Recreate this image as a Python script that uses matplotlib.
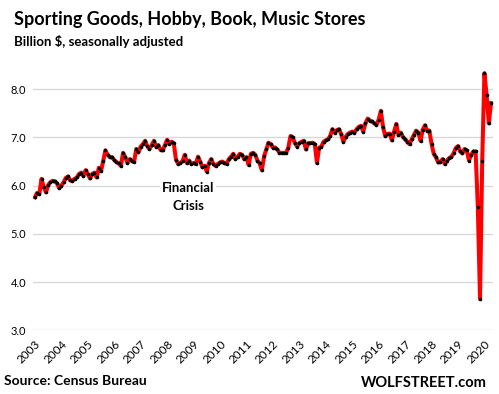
import matplotlib
matplotlib.use('Agg')
import matplotlib.pyplot as plt
import numpy as np

# monthly sales, billion $ (first point = 2003 label)
sales = [
    5.76, 5.85, 5.83, 6.14, 5.97, 5.86, 6.01, 6.07, 6.10, 6.09, 6.05, 5.95,
    6.00, 6.07, 6.16, 6.19, 6.11, 6.10, 6.14, 6.17, 6.24, 6.27, 6.20, 6.32,
    6.24, 6.15, 6.24, 6.27, 6.17, 6.37, 6.30, 6.51, 6.73, 6.64,
    6.59, 6.59, 6.53, 6.49, 6.46, 6.41, 6.68, 6.59, 6.47, 6.55, 6.51, 6.49,
    6.76, 6.69, 6.81, 6.86, 6.93, 6.82, 6.76, 6.84, 6.93, 6.81, 6.84, 6.74,
    6.73, 6.84, 6.95, 6.86, 6.91, 6.88, 6.54, 6.45, 6.47, 6.51, 6.64,
    6.47, 6.52, 6.45, 6.47, 6.45, 6.60, 6.50, 6.38, 6.41, 6.29, 6.47, 6.55,
    6.45, 6.41, 6.45, 6.48, 6.50, 6.47, 6.45, 6.55, 6.60, 6.66, 6.55, 6.60,
    6.66, 6.64, 6.55, 6.59, 6.43, 6.66, 6.68, 6.64, 6.52, 6.46,
    6.32, 6.61, 6.75, 6.89, 6.86, 6.79, 6.79, 6.75, 6.68, 6.68, 6.68, 6.68,
    6.79, 7.03, 7.00, 6.88, 6.81, 6.88, 6.91, 6.93, 6.75, 6.88, 6.88, 6.89,
    6.86, 6.47, 6.79, 6.81, 6.91, 6.94, 6.96, 7.03, 7.17, 7.10, 7.15,
    7.17, 7.07, 6.91, 7.01, 7.07, 7.10, 7.12, 7.10, 7.17, 7.22, 7.24, 7.12,
    7.29, 7.39, 7.35, 7.33, 7.29, 7.26, 7.37, 7.55, 7.21, 7.03, 7.07, 7.08,
    6.94, 7.12, 7.28, 7.05, 7.10, 7.01, 6.96, 6.91, 6.86,
    6.96, 7.05, 7.14, 7.10, 6.93, 7.16, 7.25, 7.14, 7.14, 6.87, 6.66, 6.59,
    6.48, 6.49, 6.55, 6.45, 6.52, 6.57, 6.60, 6.67, 6.78, 6.82, 6.71, 6.67,
    6.76, 6.73, 6.52, 6.64, 6.71, 6.71,
    5.56, 3.65, 6.52, 8.33, 7.87, 7.29, 7.71,
]
years = [str(y) for y in range(2003, 2021)]
yticks = [3.0, 4.0, 5.0, 6.0, 7.0, 8.0]

fnt = 'Lato'
fig = plt.figure(figsize=(4.99, 3.94), dpi=100)
ax = fig.add_axes([0.066, 0.1614, 0.922, 0.6736])

x = np.arange(len(sales))
ax.plot(x, sales, color='red', lw=2.9, zorder=2)
ax.plot(x, sales, 'o', color='black', ms=2.6, mew=0, zorder=3)

ax.set_ylim(3.0, 8.5)
ax.set_xlim(-0.9, len(sales) - 0.1)
ax.set_yticks(yticks)
ax.set_yticklabels(['%.1f' % v for v in yticks], fontsize=8, family=fnt)
ax.set_xticks(x[::12])
ax.set_xticklabels(years, rotation=45, ha='right', rotation_mode='anchor',
                   fontsize=8.5, family=fnt)
ax.tick_params(length=0)
ax.tick_params(axis='x', pad=6)
ax.tick_params(axis='y', pad=5)
ax.grid(axis='y', color='#d9d9d9', lw=1, zorder=0)
for s in ax.spines.values():
    s.set_visible(False)

ax.text(69.5, 5.76, 'Financial\nCrisis', ha='center', va='center', fontsize=9.5,
        fontweight='bold', family=fnt, linespacing=1.6,
        bbox=dict(facecolor='white', edgecolor='none', pad=1.5), zorder=4)

fig.text(0.028, 0.9365, 'Sporting Goods, Hobby, Book, Music Stores',
         fontsize=13, fontweight='bold', family=fnt)
fig.text(0.028, 0.883, 'Billion $, seasonally adjusted',
         fontsize=9.5, fontweight='bold', family=fnt)
fig.text(0.008, 0.022, 'Source: Census Bureau', fontsize=10,
         fontweight='bold', family=fnt)
fig.text(0.976, 0.018, 'WOLFSTREET.com', fontsize=10.5, ha='right',
         fontweight='bold', family=fnt)

fig.savefig('out.png', dpi=100)
